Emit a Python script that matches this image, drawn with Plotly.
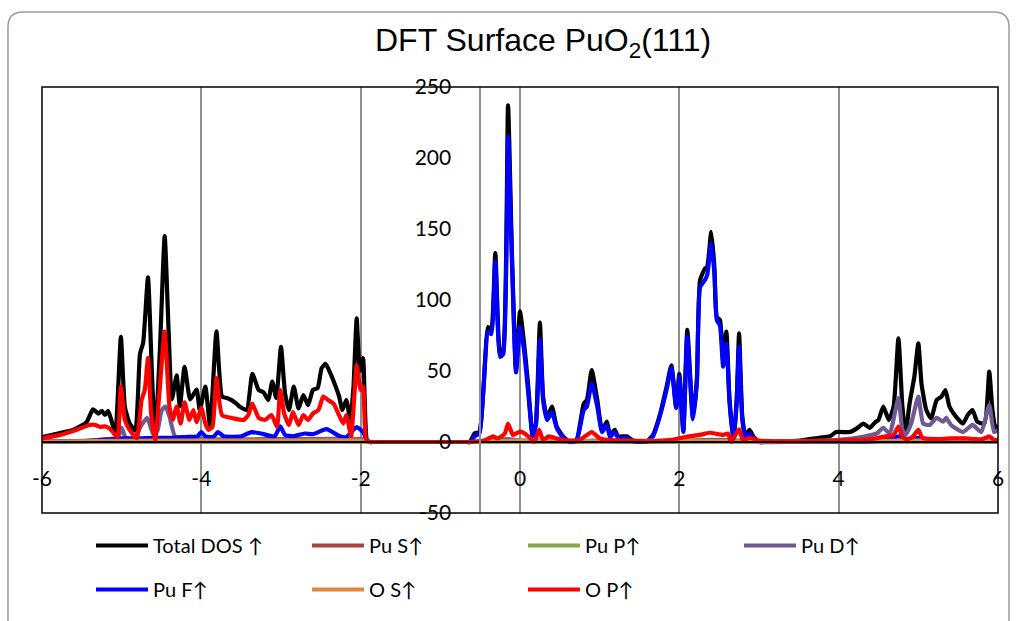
import plotly.graph_objects as go

# ---------------- data (energy in eV, DOS values) ----------------
series_names = ["Total DOS \u2191", "Pu S\u2191", "Pu P\u2191", "Pu D\u2191", "Pu F\u2191", "O S\u2191", "O P\u2191"]
series_colors = ["#000000", "#A5443E", "#8AA54B", "#6E5990", "#0000FF", "#DE8838", "#FF0000"]

x_tick_vals = [-6, -4, -2, 0, 2, 4, 6]
x_tick_labels = ["-6", "-4", "-2", "0", "2", "4", "6"]
y_tick_vals = [-50, 0, 50, 100, 150, 200, 250]
y_tick_labels = ["-50", "0", "50", "100", "150", "200", "250"]

e_total = [-6.0, -5.8, -5.61, -5.44, -5.36, -5.29, -5.25, -5.21, -5.17, -5.13, -5.08, -5.01, -4.96, -4.90,
           -4.83, -4.77, -4.73, -4.67, -4.62, -4.58, -4.52, -4.46, -4.41, -4.37, -4.31, -4.27, -4.21, -4.14,
           -4.06, -4.02, -3.95, -3.89, -3.81, -3.74, -3.68, -3.62, -3.56, -3.51, -3.43, -3.36, -3.28, -3.22,
           -3.16, -3.11, -3.06, -3.00, -2.95, -2.90, -2.84, -2.78, -2.72, -2.66, -2.60, -2.54, -2.49, -2.44,
           -2.38, -2.32, -2.27, -2.23, -2.18, -2.13, -2.09, -2.05, -2.01, -1.97, -1.92, -1.88, -1.85, -0.66,
           -0.63, -0.57,
           -0.51, -0.46, -0.40, -0.36, -0.31, -0.25, -0.21, -0.15, -0.10, -0.05, 0.0, 0.05, 0.10, 0.16, 0.20,
           0.25, 0.29, 0.34, 0.40, 0.46, 0.54, 0.63, 0.71, 0.80, 0.84, 0.90, 0.97, 1.03, 1.09, 1.13, 1.19, 1.23,
           1.34, 1.42, 1.59, 1.67, 1.76, 1.84, 1.90, 1.96, 2.00, 2.05, 2.10, 2.17, 2.22, 2.26, 2.32, 2.35, 2.40,
           2.44, 2.47, 2.51, 2.55, 2.59, 2.63, 2.68, 2.72, 2.75, 2.79, 2.83, 2.88, 2.94, 3.01, 3.05, 3.51, 3.76,
           3.89,
           3.97, 4.14, 4.23, 4.31, 4.39, 4.46, 4.50, 4.56, 4.63, 4.69, 4.75, 4.80, 4.84, 4.89, 4.95, 5.00, 5.04,
           5.10, 5.16, 5.23, 5.29, 5.34, 5.39, 5.47, 5.56, 5.62, 5.68, 5.74, 5.83, 5.89, 5.93, 5.97, 6.0]
dos_total = [3.5, 6, 8.5, 14, 23, 20, 22, 19, 22, 15.5, 6, 74, 25, 13,
             8, 62, 70, 116, 48, 3, 65, 145, 77, 30, 47, 25, 53, 30,
             37, 22.5, 39, 11, 78, 32, 31, 29.5, 27, 24.6, 22.5, 48, 36.6, 35,
             29.6, 42.5, 31, 67, 34.5, 22.5, 39, 23.7, 33, 26, 36.6, 38, 52, 55,
             48.4, 40, 32, 22.5, 29.6, 15.5, 39, 87, 50, 59, 1, 0, 0, 0,
             0, 6,
             7, 36.6, 81, 79, 133, 62, 65, 237, 130, 51, 92, 70, 41.5, 4, 13,
             84, 32, 17, 25, 11, 4, 0, 1.5, 27, 29.6, 50.7, 29.6, 8.5, 14.3, 5, 8.5, 4,
             4, 1, 0.5, 5, 20, 39, 54, 25, 48, 8.5, 79, 18, 43.7, 114, 122, 123.5, 148,
             123.5, 88, 86, 58, 77.7, 30, 1, 30, 76.5, 18, 4, 8.5, 3, 0, 0, 1, 3,
             4,
             7, 7, 9.6, 13, 10, 14, 15.5, 25, 15.5, 25, 73, 25, 6, 27, 46, 69.5, 41,
             22.5, 16.7, 29.6, 32, 36.6, 25, 18, 13, 19, 22.5, 14.3, 13, 49.5, 22.5, 8.5, 12]

e_pu_s = [-6.0, -4.5, -3.0, -1.92, -1.88, -1.85, -0.66, -0.63, -0.15, 0.5, 1.5, 2.4, 3.01, 3.05, 4.0, 5.0, 6.0]
dos_pu_s = [0.1, 0.3, 0.3, 0.3, 0, 0, 0, 0, 0.4, 0.2, 0.1, 0.4, 0, 0, 0.1, 0.3, 0.2]

e_pu_p = [-6.0, -4.5, -3.0, -1.92, -1.88, -1.85, -0.66, -0.63, -0.15, 0.5, 1.5, 2.4, 3.01, 3.05, 4.0, 5.0, 6.0]
dos_pu_p = [0.1, 0.4, 0.3, 0.3, 0, 0, 0, 0, 0.5, 0.2, 0.1, 0.5, 0, 0, 0.1, 0.4, 0.2]

e_pu_d = [-6.0, -5.4, -5.2, -5.05, -5.0, -4.95, -4.85, -4.75, -4.68, -4.6, -4.55, -4.5, -4.45, -4.4, -4.33,
          -4.2, -4.0, -3.0, -2.0, -1.92, -1.88, -1.85, -0.66, -0.63, -0.4, -0.15, 0.0, 0.3, 0.63, 0.9, 1.2,
          1.5, 2.0, 2.4, 2.75, 3.01, 3.5, 4.0, 4.31, 4.48, 4.56, 4.64, 4.75, 4.80, 4.84, 4.91, 5.00, 5.06,
          5.14, 5.23, 5.31, 5.35, 5.41, 5.56, 5.68, 5.79, 5.89, 5.95, 6.0]
dos_pu_d = [0.3, 1, 2, 3, 10, 3, 2, 12, 17, 5, 8, 22, 25, 18, 4,
            3, 2, 2, 2, 1, 0, 0, 0, 0, 1, 2, 1, 1, 0, 1, 0.5,
            0.3, 1, 1.5, 1, 0, 0.5, 1.5, 3.7, 6, 10, 6, 31, 8.5, 5, 13, 32, 13,
            12, 17, 14.3, 17, 12, 7, 12, 7, 26, 7, 8.5]

e_pu_f = [-6.0, -5.4, -5.2, -5.0, -4.8, -4.6, -4.4, -4.2, -4.05, -4.0, -3.95, -3.85, -3.79, -3.72, -3.5,
          -3.37, -3.25, -3.08, -3.01, -2.95, -2.85, -2.7, -2.6, -2.43, -2.26, -2.18, -2.05, -1.97, -1.92,
          -1.88, -1.85, -0.66, -0.63, -0.57, -0.51, -0.46, -0.40, -0.36, -0.31, -0.25, -0.21, -0.15, -0.10,
          -0.05, 0.0,
          0.05, 0.10, 0.16, 0.20, 0.25, 0.29, 0.34, 0.40, 0.46, 0.54, 0.63, 0.71, 0.80, 0.84, 0.90, 0.97,
          1.03, 1.09, 1.13, 1.19, 1.23, 1.34, 1.42, 1.59, 1.67, 1.76, 1.84, 1.90, 1.96, 2.00, 2.05, 2.10,
          2.17, 2.22, 2.26, 2.32, 2.35, 2.40, 2.44, 2.47, 2.51, 2.55, 2.59, 2.63, 2.68, 2.72, 2.75, 2.79,
          2.83, 2.88, 2.94, 3.01, 3.05, 4.4, 4.6, 4.75, 4.85, 5.0, 5.1, 5.5, 6.0]
dos_pu_f = [0.3, 0.8, 1.5, 2.5, 2.5, 3, 3, 3.5, 4, 7, 4, 3.5, 7, 4, 4,
            7, 6, 4, 11, 5, 4, 6, 5.5, 9, 4, 3.5, 10.5, 7, 1,
            0, 0, 0, 0, 4, 6, 36, 77.7, 76, 127, 60, 62, 215, 126,
            49, 81,
            65, 36.6, 4, 12, 72, 29.6, 15.5, 21, 10, 3, 0, 1, 22.5, 25, 41.3, 25,
            7, 12, 3.5, 7, 3, 3, 0.5, 0.3, 4, 19, 37, 52, 24, 46, 7, 74,
            16, 42, 109, 114, 117.6, 140, 119, 86, 82, 53, 69.5, 28, 0.5, 28, 67, 16,
            3, 6, 2, 0, 0, 0.5, 1.5, 4, 2, 3, 1.5, 1, 0.5]

e_o_s = [-6.0, -5.0, -4.0, -3.0, -2.0, -1.92, -1.88, -1.85, -0.66, -0.63, 0.0, 1.0, 2.0, 3.01, 4.0, 5.0, 6.0]
dos_o_s = [0.3, 0.8, 1, 1, 1, 0.5, 0, 0, 0, 0, 1, 0.5, 1, 0.3, 0.5, 1, 0.5]

e_o_p = [-6.0, -5.77, -5.61, -5.40, -5.33, -5.27, -5.21, -5.15, -5.08, -5.05, -5.01, -4.96, -4.90, -4.81,
         -4.75, -4.71, -4.67, -4.63, -4.58, -4.53, -4.46, -4.40, -4.36, -4.31, -4.26, -4.21, -4.15, -4.10,
         -4.06, -4.00, -3.95, -3.91, -3.86, -3.81, -3.74, -3.60, -3.47, -3.41, -3.36, -3.28, -3.20, -3.12,
         -3.05, -3.01, -2.96, -2.90, -2.85, -2.78, -2.72, -2.66, -2.60, -2.53, -2.47, -2.41, -2.34, -2.28,
         -2.22, -2.18, -2.12, -2.08, -2.05, -2.00, -1.97, -1.93, -1.88, -1.85, -0.66, -0.63, -0.45, -0.34,
         -0.28, -0.19,
         -0.15, -0.09, -0.05, 0.0, 0.06, 0.13, 0.18, 0.24, 0.29, 0.36, 0.46, 0.6, 0.75, 0.90, 1.0, 1.09,
         1.3, 1.6, 1.9, 2.09, 2.26, 2.38, 2.55, 2.61, 2.65, 2.75, 2.80, 2.88, 3.0, 3.5, 4.0, 4.4, 4.56,
         4.69, 4.75, 4.80, 4.85, 4.93, 5.00, 5.05, 5.19, 5.4, 5.6, 5.8, 5.89, 5.95, 6.0]
dos_o_p = [2.6, 5, 7.7, 12, 12, 10.6, 11, 9.4, 5, 3.3, 39, 15.5, 8.5, 2.6,
           29.6, 36.6, 59, 20, 1, 32, 77.7, 25, 15.5, 25, 13, 28, 15.5, 22.5,
           14, 24, 13, 8.5, 10.8, 45, 19, 16.7, 15.5, 19, 27, 17, 15.5, 19,
           10.8, 36.6, 20, 12, 21, 12, 19, 15.5, 20, 22.5, 32, 29.6, 27, 20,
           13, 19, 4, 32, 54, 36.6, 39, 1, 0, 0, 0, 0, 1, 4,
           2.5, 6,
           13, 5, 6, 7.3, 6, 2.6, 0, 8.5, 1.5, 4, 2.5, 1, 1.5, 7, 2.5, 1.5,
           1, 0.5, 1.5, 3.7, 5, 6.5, 5, 6, 0, 9, 1, 3, 1, 0.5, 1, 2, 3.7,
           5, 10.8, 3.7, 1.4, 3.7, 8.5, 3, 2, 2.5, 2.5, 2, 4, 1.5, 1.5]

series_x = [e_total, e_pu_s, e_pu_p, e_pu_d, e_pu_f, e_o_s, e_o_p]
series_y = [dos_total, dos_pu_s, dos_pu_p, dos_pu_d, dos_pu_f, dos_o_s, dos_o_p]

# ---------------- layout geometry ----------------
W, H = 1016, 621
X_RANGE = [-6, 6]
Y_RANGE = [-50, 250]
x_dom = [42 / W, 998 / W]
y_dom = [1 - 513 / H, 1 - 87 / H]
y_axis_cross = -0.5   # vertical axis crosses x here
x_axis_cross = 0      # horizontal axis crosses y here

yaxis_pos = x_dom[0] + (y_axis_cross - X_RANGE[0]) / (X_RANGE[1] - X_RANGE[0]) * (x_dom[1] - x_dom[0])
xaxis_pos = y_dom[0] + (x_axis_cross - Y_RANGE[0]) / (Y_RANGE[1] - Y_RANGE[0]) * (y_dom[1] - y_dom[0])

fig = go.Figure()
for i, (name, col, xs, ys) in enumerate(zip(series_names, series_colors, series_x, series_y)):
    fig.add_trace(go.Scatter(
        x=xs, y=ys, mode="lines", name=name,
        line=dict(color=col, width=4.2, shape="spline", smoothing=0.5),
        legend="legend" if i < 4 else "legend2",
        hoverinfo="skip",
    ))

TICK_FONT = dict(family="Lato, 'Liberation Sans', sans-serif", size=21, color="#000000")
LEG_FONT = dict(family="Lato, 'DejaVu Sans', sans-serif", size=20, color="#000000")

def P(x, y):
    return f"{x / W:.5f},{1 - y / H:.5f}"

border_path = ("M " + P(8, 660) + " L " + P(8, 27) + " Q " + P(8, 12) + " " + P(23, 12) +
               " L " + P(994, 12) + " Q " + P(1009, 12) + " " + P(1009, 27) + " L " + P(1009, 660))

LEG_COMMON = dict(
    orientation="h", x=91 / W, xanchor="left", yanchor="top",
    entrywidth=149, entrywidthmode="pixels", itemwidth=52,
    font=LEG_FONT, bgcolor="rgba(0,0,0,0)", traceorder="normal",
)

fig.update_layout(
    width=W, height=H,
    margin=dict(l=0, r=0, t=0, b=0, pad=0, autoexpand=False),
    paper_bgcolor="white", plot_bgcolor="white",
    showlegend=True,
    xaxis=dict(
        domain=x_dom, range=X_RANGE, anchor="free", position=xaxis_pos,
        tickmode="array", tickvals=x_tick_vals, ticktext=x_tick_labels,
        showgrid=True, gridcolor="#8E8E8E", gridwidth=1.5,
        zeroline=False, showline=True, linecolor="#000000", linewidth=1.5,
        ticks="", ticklabelstandoff=18, tickfont=TICK_FONT, automargin=False,
    ),
    yaxis=dict(
        domain=y_dom, range=Y_RANGE, anchor="free", position=yaxis_pos,
        tickmode="array", tickvals=y_tick_vals, ticktext=y_tick_labels,
        showgrid=False, zeroline=False,
        showline=True, linecolor="#8E8E8E", linewidth=1.5,
        ticks="", ticklabelstandoff=24, tickfont=TICK_FONT, automargin=False,
    ),
    legend=dict(LEG_COMMON, y=1 - 526 / H),
    legend2=dict(LEG_COMMON, y=1 - 570 / H),
    annotations=[dict(
        text="DFT Surface PuO<sub>2</sub>(111)", x=543 / W, y=1 - 43 / H,
        xref="paper", yref="paper", xanchor="center", yanchor="middle", showarrow=False,
        font=dict(family="'Liberation Sans', Arial, sans-serif", size=32, color="#000000"),
    )],
    shapes=[
        dict(type="rect", xref="x domain", yref="y domain", x0=0, x1=1, y0=0, y1=1,
             line=dict(color="#000000", width=1.5), layer="above"),
        dict(type="path", xref="paper", yref="paper", path=border_path,
             line=dict(color="#9A9A9A", width=1.5)),
    ],
)

fig.write_html("out.html")
